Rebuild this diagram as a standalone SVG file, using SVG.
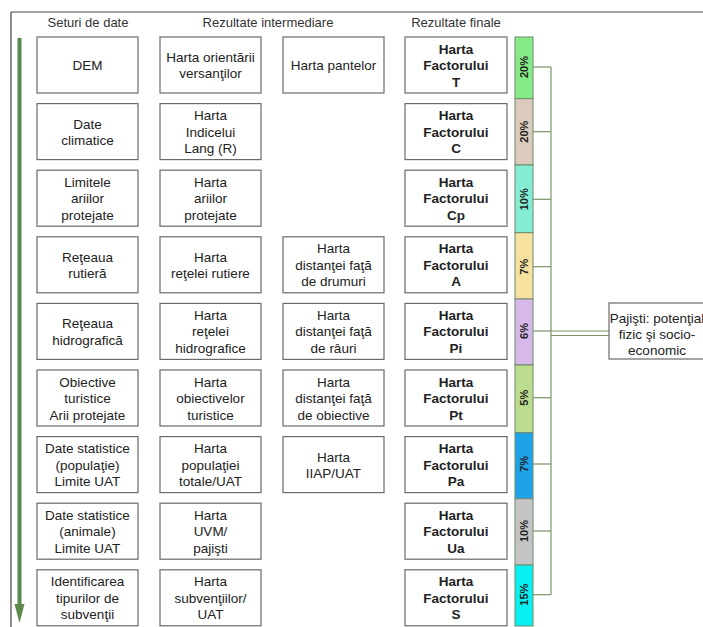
<svg xmlns="http://www.w3.org/2000/svg" width="703" height="627" viewBox="0 0 703 627">
<defs>
<style>
text{font-family:"Liberation Sans",Arial,sans-serif;fill:#222;text-anchor:middle}
.h{font-size:13px;fill:#333}
.t{font-size:13.5px}
.b{font-size:13.5px;font-weight:bold}
.p{font-size:11px;font-weight:bold}
.box{fill:#fff;stroke:#6a6a6a;stroke-width:1.2}
.seg{stroke:#6f8a6f;stroke-width:1}
.con{stroke:#7a9466;stroke-width:1.2;fill:none}
</style>
</defs>
<rect width="703" height="627" fill="#fff"/>
<g id="frame">
<line x1="11" y1="12" x2="703" y2="12" stroke="#444" stroke-width="1.2"/>
<line x1="11" y1="12" x2="11" y2="627" stroke="#444" stroke-width="1.2"/>
</g>
<g id="headers">
<text class="h" x="88" y="27">Seturi de date</text>
<text class="h" x="268" y="27">Rezultate intermediare</text>
<text class="h" x="456" y="27">Rezultate finale</text>
</g>
<g id="flow-arrow">
<line x1="19.5" y1="38" x2="19.5" y2="606" stroke="#5b8a4c" stroke-width="4"/>
<polygon points="14.5,604 24.5,604 19.5,623" fill="#5b8a4c"/>
</g>
<!-- Column 1 -->
<g id="dem"><rect class="box" x="37" y="37" width="101" height="56"/><text class="t" x="87.5" y="70">DEM</text></g>
<g id="date-climatice"><rect class="box" x="37" y="103.6" width="101" height="56"/><text class="t" x="87.5" y="128.5">Date</text><text class="t" x="87.5" y="145">climatice</text></g>
<g id="limitele"><rect class="box" x="37" y="170.2" width="101" height="56"/><text class="t" x="87.5" y="186.7">Limitele</text><text class="t" x="87.5" y="203.2">ariilor</text><text class="t" x="87.5" y="219.7">protejate</text></g>
<g id="reteaua-rutiera"><rect class="box" x="37" y="236.8" width="101" height="56"/><text class="t" x="87.5" y="261.7">Reţeaua</text><text class="t" x="87.5" y="278.2">rutieră</text></g>
<g id="reteaua-hidro"><rect class="box" x="37" y="303.4" width="101" height="56"/><text class="t" x="87.5" y="328.3">Reţeaua</text><text class="t" x="87.5" y="344.8">hidrografică</text></g>
<g id="obiective"><rect class="box" x="37" y="370" width="101" height="56"/><text class="t" x="87.5" y="386.5">Obiective</text><text class="t" x="87.5" y="403">turistice</text><text class="t" x="87.5" y="419.5">Arii protejate</text></g>
<g id="date-pop"><rect class="box" x="37" y="436.6" width="101" height="56"/><text class="t" x="87.5" y="453.1">Date statistice</text><text class="t" x="87.5" y="469.6">(populaţie)</text><text class="t" x="87.5" y="486.1">Limite UAT</text></g>
<g id="date-anim"><rect class="box" x="37" y="503.2" width="101" height="56"/><text class="t" x="87.5" y="519.7">Date statistice</text><text class="t" x="87.5" y="536.2">(animale)</text><text class="t" x="87.5" y="552.7">Limite UAT</text></g>
<g id="identificarea"><rect class="box" x="37" y="569.8" width="101" height="56"/><text class="t" x="87.5" y="586.3">Identificarea</text><text class="t" x="87.5" y="602.8">tipurilor de</text><text class="t" x="87.5" y="619.3">subvenţii</text></g>
<!-- Column 2 -->
<g id="h-orientarii"><rect class="box" x="160" y="37" width="101" height="56"/><text class="t" x="210.5" y="61.5">Harta orientării</text><text class="t" x="210.5" y="78">versanţilor</text></g>
<g id="h-lang"><rect class="box" x="160" y="103.6" width="101" height="56"/><text class="t" x="210.5" y="120.1">Harta</text><text class="t" x="210.5" y="136.6">Indicelui</text><text class="t" x="210.5" y="153.1">Lang (R)</text></g>
<g id="h-arii"><rect class="box" x="160" y="170.2" width="101" height="56"/><text class="t" x="210.5" y="186.7">Harta</text><text class="t" x="210.5" y="203.2">ariilor</text><text class="t" x="210.5" y="219.7">protejate</text></g>
<g id="h-ret-rut"><rect class="box" x="160" y="236.8" width="101" height="56"/><text class="t" x="210.5" y="261.7">Harta</text><text class="t" x="210.5" y="278.2">reţelei rutiere</text></g>
<g id="h-ret-hidro"><rect class="box" x="160" y="303.4" width="101" height="56"/><text class="t" x="210.5" y="319.9">Harta</text><text class="t" x="210.5" y="336.4">reţelei</text><text class="t" x="210.5" y="352.9">hidrografice</text></g>
<g id="h-obiective"><rect class="box" x="160" y="370" width="101" height="56"/><text class="t" x="210.5" y="386.5">Harta</text><text class="t" x="210.5" y="403">obiectivelor</text><text class="t" x="210.5" y="419.5">turistice</text></g>
<g id="h-populatiei"><rect class="box" x="160" y="436.6" width="101" height="56"/><text class="t" x="210.5" y="453.1">Harta</text><text class="t" x="210.5" y="469.6">populaţiei</text><text class="t" x="210.5" y="486.1">totale/UAT</text></g>
<g id="h-uvm"><rect class="box" x="160" y="503.2" width="101" height="56"/><text class="t" x="210.5" y="519.7">Harta</text><text class="t" x="210.5" y="536.2">UVM/</text><text class="t" x="210.5" y="552.7">pajişti</text></g>
<g id="h-subventii"><rect class="box" x="160" y="569.8" width="101" height="56"/><text class="t" x="210.5" y="586.3">Harta</text><text class="t" x="210.5" y="602.8">subvenţiilor/</text><text class="t" x="210.5" y="619.3">UAT</text></g>
<!-- Column 3 -->
<g id="h-pantelor"><rect class="box" x="283" y="37" width="101" height="56"/><text class="t" x="333.5" y="70">Harta pantelor</text></g>
<g id="h-dist-drum"><rect class="box" x="283" y="236.8" width="101" height="56"/><text class="t" x="333.5" y="253.3">Harta</text><text class="t" x="333.5" y="269.8">distanţei faţă</text><text class="t" x="333.5" y="286.3">de drumuri</text></g>
<g id="h-dist-rau"><rect class="box" x="283" y="303.4" width="101" height="56"/><text class="t" x="333.5" y="319.9">Harta</text><text class="t" x="333.5" y="336.4">distanţei faţă</text><text class="t" x="333.5" y="352.9">de râuri</text></g>
<g id="h-dist-obj"><rect class="box" x="283" y="370" width="101" height="56"/><text class="t" x="333.5" y="386.5">Harta</text><text class="t" x="333.5" y="403">distanţei faţă</text><text class="t" x="333.5" y="419.5">de obiective</text></g>
<g id="h-iiap"><rect class="box" x="283" y="436.6" width="101" height="56"/><text class="t" x="333.5" y="461.5">Harta</text><text class="t" x="333.5" y="478">IIAP/UAT</text></g>
<!-- Column 4 -->
<g id="f-T"><rect class="box" x="405" y="37" width="102" height="56"/><text class="b" x="456" y="53.5">Harta</text><text class="b" x="456" y="70">Factorului</text><text class="b" x="456" y="86.5">T</text></g>
<g id="f-C"><rect class="box" x="405" y="103.6" width="102" height="56"/><text class="b" x="456" y="120.1">Harta</text><text class="b" x="456" y="136.6">Factorului</text><text class="b" x="456" y="153.1">C</text></g>
<g id="f-Cp"><rect class="box" x="405" y="170.2" width="102" height="56"/><text class="b" x="456" y="186.7">Harta</text><text class="b" x="456" y="203.2">Factorului</text><text class="b" x="456" y="219.7">Cp</text></g>
<g id="f-A"><rect class="box" x="405" y="236.8" width="102" height="56"/><text class="b" x="456" y="253.3">Harta</text><text class="b" x="456" y="269.8">Factorului</text><text class="b" x="456" y="286.3">A</text></g>
<g id="f-Pi"><rect class="box" x="405" y="303.4" width="102" height="56"/><text class="b" x="456" y="319.9">Harta</text><text class="b" x="456" y="336.4">Factorului</text><text class="b" x="456" y="352.9">Pi</text></g>
<g id="f-Pt"><rect class="box" x="405" y="370" width="102" height="56"/><text class="b" x="456" y="386.5">Harta</text><text class="b" x="456" y="403">Factorului</text><text class="b" x="456" y="419.5">Pt</text></g>
<g id="f-Pa"><rect class="box" x="405" y="436.6" width="102" height="56"/><text class="b" x="456" y="453.1">Harta</text><text class="b" x="456" y="469.6">Factorului</text><text class="b" x="456" y="486.1">Pa</text></g>
<g id="f-Ua"><rect class="box" x="405" y="503.2" width="102" height="56"/><text class="b" x="456" y="519.7">Harta</text><text class="b" x="456" y="536.2">Factorului</text><text class="b" x="456" y="552.7">Ua</text></g>
<g id="f-S"><rect class="box" x="405" y="569.8" width="102" height="56"/><text class="b" x="456" y="586.3">Harta</text><text class="b" x="456" y="602.8">Factorului</text><text class="b" x="456" y="619.3">S</text></g>
<!-- Weight bar -->
<g id="weights">
<rect class="seg" x="515" y="37" width="18" height="61.7" fill="#86eb86"/>
<rect class="seg" x="515" y="98.7" width="18" height="66.3" fill="#dccbbd"/>
<rect class="seg" x="515" y="165" width="18" height="67.7" fill="#85edd3"/>
<rect class="seg" x="515" y="232.7" width="18" height="66.3" fill="#f6e29e"/>
<rect class="seg" x="515" y="299" width="18" height="66" fill="#d7b8ea"/>
<rect class="seg" x="515" y="365" width="18" height="67.7" fill="#bcdc8e"/>
<rect class="seg" x="515" y="432.7" width="18" height="66" fill="#1ea2e8"/>
<rect class="seg" x="515" y="498.7" width="18" height="66.3" fill="#c4c4c4"/>
<rect class="seg" x="515" y="565" width="18" height="61" fill="#0af0f0"/>
<text class="p" transform="translate(528,67) rotate(-90)">20%</text>
<text class="p" transform="translate(528,131.7) rotate(-90)">20%</text>
<text class="p" transform="translate(528,199.3) rotate(-90)">10%</text>
<text class="p" transform="translate(528,266.7) rotate(-90)">7%</text>
<text class="p" transform="translate(528,331) rotate(-90)">6%</text>
<text class="p" transform="translate(528,397.7) rotate(-90)">5%</text>
<text class="p" transform="translate(528,464) rotate(-90)">7%</text>
<text class="p" transform="translate(528,531) rotate(-90)">10%</text>
<text class="p" transform="translate(528,594.7) rotate(-90)">15%</text>
</g>
<g id="connectors">
<line class="con" x1="533" y1="67" x2="551" y2="67"/>
<line class="con" x1="533" y1="131.7" x2="551" y2="131.7"/>
<line class="con" x1="533" y1="199.3" x2="551" y2="199.3"/>
<line class="con" x1="533" y1="266.7" x2="551" y2="266.7"/>
<line class="con" x1="533" y1="331" x2="551" y2="331"/>
<line class="con" x1="533" y1="397.7" x2="551" y2="397.7"/>
<line class="con" x1="533" y1="464" x2="551" y2="464"/>
<line class="con" x1="533" y1="531" x2="551" y2="531"/>
<line class="con" x1="533" y1="594.7" x2="551" y2="594.7"/>
<line class="con" x1="551" y1="67" x2="551" y2="594.7"/>
<line class="con" x1="551" y1="331" x2="609" y2="331"/>
<line class="con" x1="551" y1="335.5" x2="609" y2="335.5"/>
</g>
<g id="pajisti"><rect class="box" x="609" y="303" width="98" height="56"/><text class="t" x="657" y="323">Pajişti: potenţial</text><text class="t" x="657" y="339">fizic şi socio-</text><text class="t" x="657" y="355">economic</text></g>
</svg>
